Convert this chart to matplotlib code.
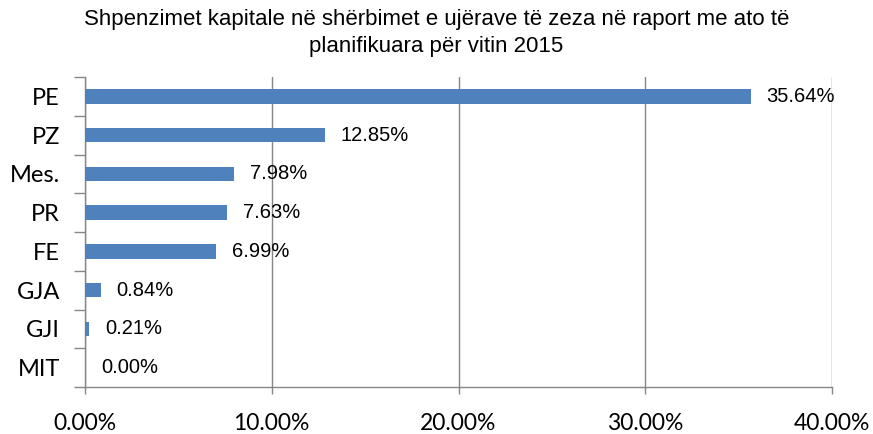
import matplotlib
matplotlib.use("Agg")
import matplotlib.pyplot as plt
import numpy as np

categories = ["PE", "PZ", "Mes.", "PR", "FE", "GJA", "GJI", "MIT"]
values = [35.64, 12.85, 7.98, 7.63, 6.99, 0.84, 0.21, 0.00]
xticks = [0, 10, 20, 30, 40]
title = "Shpenzimet kapitale në shërbimet e ujërave të zeza në raport me ato të\nplanifikuara për vitin 2015"

labelfont = "Liberation Sans"
tickfont = "Lato"

fig = plt.figure(figsize=(8.73, 4.34), dpi=100)
ax = fig.add_axes([85/873, 1-387/434, (832-85)/873, (387-77)/434])

n = len(categories)
y = np.arange(n)
ax.barh(y, values, height=0.38, color="#4F81BD", zorder=3)
ax.set_ylim(n - 0.5, -0.5)
ax.set_xlim(0, 40)

gc = "#868686"
ax.set_xticks(xticks)
ax.set_xticklabels([f"{t:.2f}%" for t in xticks], fontfamily=tickfont, fontsize=16.5)
ax.grid(axis="x", color=gc, linewidth=1.0, zorder=0)
ax.tick_params(axis="x", length=5, color=gc, width=1, pad=13.5)

ax.set_yticks(np.arange(-0.5, n, 1.0))
ax.set_yticklabels([])
ax.tick_params(axis="y", which="major", length=8, color=gc, width=1)
ax.set_yticks(y, minor=True)
ax.set_yticklabels(categories, minor=True, fontfamily=tickfont, fontsize=17)
ax.tick_params(axis="y", which="minor", length=0, pad=18)

for s in ["top", "right"]:
    ax.spines[s].set_visible(False)
for s in ["left", "bottom"]:
    ax.spines[s].set_color(gc)
    ax.spines[s].set_linewidth(1.0)

for yi, v in zip(y, values):
    ax.annotate(f"{v:.2f}%", (v, yi), xytext=(16, 0), textcoords="offset pixels",
                va="center", ha="left", fontfamily=labelfont, fontsize=14.5, color="#000000")

fig.text(0.5, 1 - 33/434, title, ha="center", va="center", fontfamily=labelfont, fontsize=16, linespacing=1.35)

fig.savefig("out.png", dpi=100)
